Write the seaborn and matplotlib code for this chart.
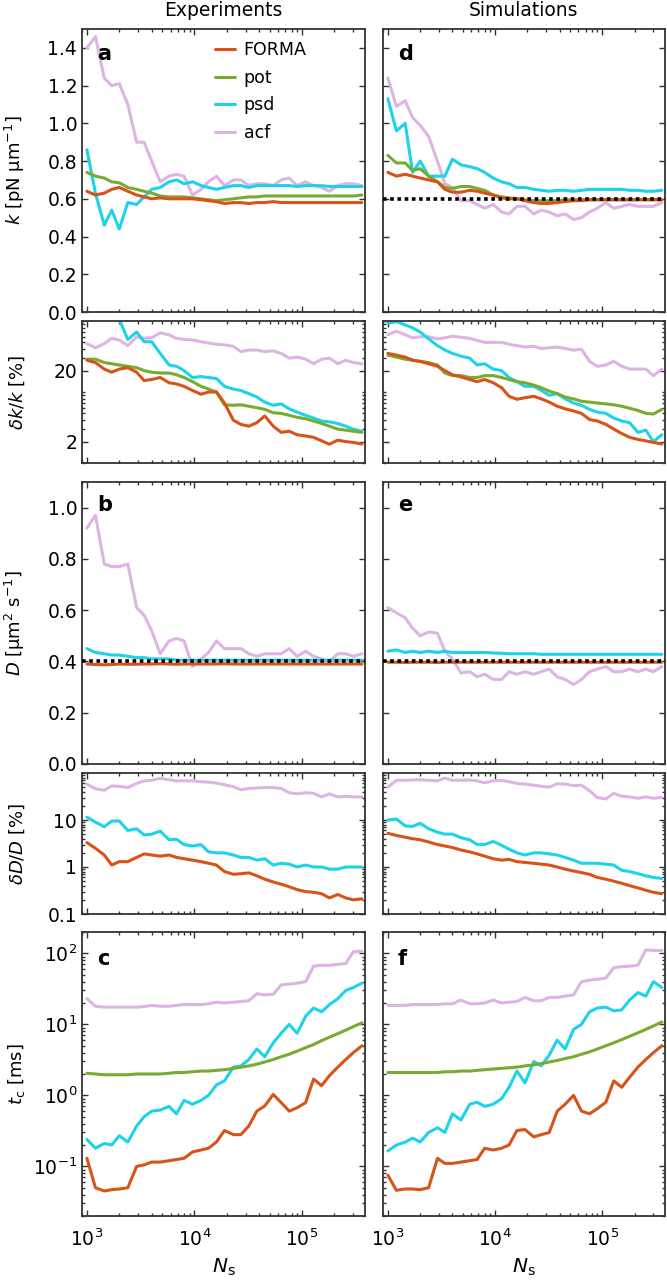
import matplotlib
matplotlib.use("Agg")
import matplotlib.pyplot as plt
import matplotlib.ticker as mticker
import seaborn as sns
import pandas as pd
import numpy as np

# number of samples N_s (shared x values of every curve)
ns = [1000, 1200, 1450, 1700, 2000, 2400, 2900, 3400, 4000, 4800, 5800, 6800,
      8000, 9600, 11500, 13500, 16000, 19000, 23000, 27000, 32000, 38000, 45000,
      54000, 64000, 76000, 90000, 108000, 128000, 152000, 180000, 215000, 255000,
      300000, 360000]

methods = ["FORMA", "pot", "psd", "acf"]
colors = {"FORMA": "#D95319", "pot": "#77AC30", "psd": "#1DD3EA", "acf": "#DDB4E4"}

# reference (true) values shown as dotted lines
k_true_sim = 0.6
D_true = 0.4

# ---- k [pN/um] ----
k_exp_forma = [0.64, 0.62, 0.63, 0.65, 0.66, 0.64, 0.62, 0.61, 0.60, 0.605, 0.60, 0.60, 0.60, 0.60, 0.595, 0.59,
               0.585, 0.575, 0.58, 0.58, 0.575, 0.58, 0.58, 0.585, 0.58, 0.58, 0.58, 0.58, 0.58, 0.58, 0.58,
               0.58, 0.58, 0.58, 0.58]
k_exp_pot = [0.74, 0.72, 0.71, 0.69, 0.685, 0.66, 0.65, 0.64, 0.63, 0.615, 0.61, 0.61, 0.61, 0.605, 0.60, 0.595,
             0.59, 0.595, 0.60, 0.605, 0.61, 0.61, 0.615, 0.615, 0.615, 0.615, 0.615, 0.615, 0.615, 0.615, 0.615,
             0.615, 0.615, 0.615, 0.62]
k_exp_psd = [0.86, 0.63, 0.46, 0.54, 0.44, 0.58, 0.57, 0.61, 0.65, 0.66, 0.69, 0.70, 0.68, 0.69, 0.67, 0.66,
             0.65, 0.66, 0.67, 0.67, 0.66, 0.67, 0.67, 0.67, 0.67, 0.67, 0.665, 0.67, 0.67, 0.67, 0.665,
             0.665, 0.665, 0.665, 0.665]
k_exp_acf = [1.40, 1.46, 1.24, 1.20, 1.21, 1.10, 0.90, 0.90, 0.80, 0.69, 0.72, 0.73, 0.72, 0.62, 0.65, 0.69,
             0.72, 0.67, 0.70, 0.70, 0.67, 0.68, 0.68, 0.67, 0.70, 0.71, 0.67, 0.69, 0.67, 0.66, 0.64,
             0.67, 0.68, 0.68, 0.67]

k_sim_forma = [0.74, 0.72, 0.73, 0.72, 0.71, 0.70, 0.69, 0.65, 0.635, 0.635, 0.645, 0.64, 0.63, 0.62, 0.605, 0.60,
               0.60, 0.59, 0.58, 0.575, 0.575, 0.58, 0.585, 0.59, 0.59, 0.595, 0.595, 0.595, 0.595, 0.595,
               0.595, 0.595, 0.595, 0.595, 0.595]
k_sim_pot = [0.83, 0.79, 0.79, 0.75, 0.76, 0.72, 0.69, 0.66, 0.655, 0.665, 0.665, 0.655, 0.645, 0.62, 0.61, 0.605,
             0.60, 0.595, 0.59, 0.59, 0.59, 0.59, 0.595, 0.595, 0.595, 0.595, 0.595, 0.595, 0.595, 0.595,
             0.595, 0.595, 0.595, 0.595, 0.595]
k_sim_psd = [1.13, 0.96, 1.00, 0.74, 0.80, 0.72, 0.72, 0.72, 0.81, 0.78, 0.77, 0.76, 0.74, 0.71, 0.69, 0.68,
             0.66, 0.66, 0.65, 0.645, 0.64, 0.645, 0.645, 0.64, 0.645, 0.65, 0.65, 0.65, 0.65, 0.65, 0.645,
             0.645, 0.64, 0.64, 0.645]
k_sim_acf = [1.24, 1.09, 1.12, 1.03, 0.99, 0.93, 0.80, 0.68, 0.66, 0.59, 0.59, 0.57, 0.55, 0.57, 0.53, 0.52,
             0.56, 0.56, 0.52, 0.54, 0.53, 0.51, 0.52, 0.49, 0.50, 0.53, 0.55, 0.58, 0.55, 0.56, 0.57,
             0.56, 0.56, 0.56, 0.58]

# ---- dk/k [%] ----
dk_exp_forma = [28, 26, 21, 19, 21, 22, 19, 14.5, 15, 16, 13.5, 13, 12, 10.5, 9.3, 10, 10, 7, 4.0, 3.5, 3.3,
                3.7, 4.6, 3.3, 2.7, 2.8, 2.5, 2.4, 2.3, 2.05, 1.84, 2.1, 2.0, 1.95, 1.85]
dk_exp_pot = [29, 29, 26, 25, 24, 23, 22, 20, 19, 18.5, 18.5, 17.5, 16, 14, 12, 11, 10, 6.6, 6.5, 6.6, 6.3,
              6.0, 5.7, 5.1, 5.0, 4.7, 4.4, 4.2, 3.9, 3.6, 3.3, 3.0, 2.9, 2.8, 2.7]
dk_exp_psd = [110, 110, 110, 110, 105, 55, 70, 51, 51, 35, 24, 23, 20, 16, 16.5, 16, 15.5, 12, 11, 10.5, 9.5,
              8.5, 7.2, 6.5, 6.8, 5.8, 5.2, 4.7, 4.3, 3.9, 3.8, 3.6, 3.3, 3.0, 2.8]
dk_exp_acf = [48, 42, 48, 57, 54, 45, 60, 57, 58, 68, 64, 57, 55, 54, 51, 49, 47, 46, 44, 37, 39, 39, 37, 38,
              35, 30, 31, 29, 25, 29, 30, 25, 28, 26, 25]

dk_sim_forma = [35, 33, 31, 28, 27, 25, 23, 20, 17.5, 16.3, 15, 14, 15, 13.5, 11.5, 8.7, 7.9, 8.3, 8.7, 8.0,
                7.2, 6.3, 5.8, 5.4, 5.0, 4.1, 3.9, 3.5, 3.0, 2.6, 2.3, 2.15, 2.05, 1.95, 1.85]
dk_sim_pot = [33, 31, 29, 28, 27, 26, 24, 18.5, 17, 17, 16, 16, 17, 17, 16, 15, 14, 13.5, 12.5, 11.5, 10.3,
              9.5, 8.5, 8.0, 7.4, 7.2, 7.0, 6.8, 6.6, 6.3, 5.9, 5.5, 5.0, 4.9, 5.7]
dk_sim_psd = [93, 98, 88, 80, 70, 56, 45, 39, 35, 32, 30, 24, 25, 21, 20, 16, 14, 12, 12, 10.5, 9, 9.5, 8, 7,
              6.5, 5.7, 5.2, 5.0, 4.3, 3.9, 3.7, 2.7, 2.9, 2.0, 2.5]
dk_sim_acf = [64, 72, 64, 58, 60, 60, 56, 58, 61, 59, 57, 53, 50, 50, 50, 47, 45, 43, 44, 41, 42, 43, 41, 39,
              40, 27, 23, 24, 27, 23, 21, 21, 21, 17, 21]

# ---- D [um^2/s] ----
D_exp_forma = [0.39, 0.388, 0.387, 0.388, 0.39, 0.389, 0.389, 0.39, 0.39, 0.391, 0.39, 0.389, 0.39, 0.39,
               0.39, 0.39, 0.39, 0.391, 0.39, 0.39, 0.39, 0.39, 0.39, 0.39, 0.39, 0.39, 0.39, 0.39, 0.39,
               0.39, 0.39, 0.39, 0.39, 0.39, 0.39]
D_exp_psd = [0.45, 0.435, 0.43, 0.425, 0.425, 0.42, 0.415, 0.415, 0.41, 0.41, 0.41, 0.405, 0.405, 0.405,
             0.405, 0.405, 0.405, 0.405, 0.405, 0.405, 0.405, 0.405, 0.405, 0.405, 0.405, 0.405, 0.405,
             0.405, 0.405, 0.405, 0.405, 0.405, 0.405, 0.405, 0.405]
D_exp_acf = [0.92, 0.97, 0.78, 0.77, 0.77, 0.78, 0.61, 0.58, 0.52, 0.43, 0.48, 0.49, 0.48, 0.38, 0.41, 0.435,
             0.48, 0.45, 0.45, 0.45, 0.43, 0.42, 0.43, 0.43, 0.43, 0.45, 0.42, 0.44, 0.42, 0.41, 0.40,
             0.43, 0.43, 0.42, 0.43]

D_sim_forma = [0.397, 0.397, 0.396, 0.397, 0.397, 0.397, 0.396, 0.397, 0.397, 0.397, 0.397, 0.397, 0.397,
               0.397, 0.397, 0.397, 0.397, 0.397, 0.397, 0.397, 0.397, 0.397, 0.397, 0.397, 0.397, 0.397,
               0.397, 0.397, 0.397, 0.397, 0.397, 0.397, 0.397, 0.397, 0.397]
D_sim_psd = [0.44, 0.445, 0.435, 0.44, 0.435, 0.44, 0.435, 0.44, 0.435, 0.435, 0.435, 0.435, 0.435, 0.433,
             0.432, 0.43, 0.43, 0.43, 0.43, 0.428, 0.428, 0.428, 0.428, 0.428, 0.428, 0.428, 0.428, 0.428,
             0.428, 0.428, 0.428, 0.428, 0.428, 0.428, 0.428]
D_sim_acf = [0.61, 0.59, 0.57, 0.53, 0.50, 0.515, 0.51, 0.44, 0.41, 0.355, 0.36, 0.34, 0.35, 0.33, 0.33,
             0.36, 0.35, 0.36, 0.35, 0.36, 0.37, 0.34, 0.33, 0.31, 0.33, 0.36, 0.37, 0.38, 0.36, 0.36, 0.37,
             0.36, 0.37, 0.36, 0.38]

# ---- dD/D [%] ----
dD_exp_forma = [3.3, 2.5, 1.8, 1.1, 1.3, 1.3, 1.6, 1.9, 1.8, 1.7, 1.8, 1.6, 1.5, 1.4, 1.3, 1.2, 1.1, 0.8, 0.7,
                0.72, 0.75, 0.65, 0.55, 0.48, 0.43, 0.38, 0.33, 0.30, 0.29, 0.27, 0.22, 0.26, 0.22, 0.20, 0.21]
dD_exp_psd = [11.5, 9, 7.2, 9.5, 9.5, 6.0, 6.5, 4.8, 5.0, 5.8, 3.8, 3.9, 3.0, 2.8, 3.0, 2.1, 2.0, 2.0, 1.8,
              1.6, 1.6, 1.4, 1.5, 1.1, 1.2, 1.15, 1.0, 1.1, 1.0, 1.0, 0.9, 0.9, 1.0, 1.0, 1.0]
dD_exp_acf = [58, 46, 43, 53, 52, 49, 60, 68, 70, 77, 72, 68, 68, 68, 65, 64, 61, 56, 51, 44, 47, 48, 49, 49,
              47, 38, 36, 38, 37, 31, 36, 31, 32, 31, 31]

dD_sim_forma = [5.2, 4.7, 4.3, 4.0, 3.8, 3.4, 3.0, 2.8, 2.6, 2.3, 2.1, 1.9, 1.7, 1.5, 1.4, 1.45, 1.3, 1.25,
                1.2, 1.15, 1.1, 1.0, 0.9, 0.82, 0.76, 0.7, 0.6, 0.55, 0.5, 0.45, 0.4, 0.36, 0.32, 0.29, 0.27]
dD_sim_psd = [10, 10.5, 7.5, 7.3, 8.5, 6.5, 5.5, 5.0, 5.0, 4.2, 3.8, 3.0, 3.0, 3.5, 2.9, 2.4, 2.0, 1.8, 2.0,
              2.0, 1.9, 1.8, 1.6, 1.4, 1.2, 1.2, 1.2, 1.15, 1.1, 0.85, 0.8, 0.72, 0.65, 0.6, 0.57]
dD_sim_acf = [50, 70, 70, 71, 72, 70, 68, 78, 70, 70, 71, 68, 62, 68, 70, 65, 60, 58, 55, 52, 50, 59, 58, 54,
              55, 42, 30, 28, 37, 32, 31, 29, 31, 29, 30]

# ---- t_c [ms] ----
tc_exp_forma = [0.13, 0.05, 0.045, 0.047, 0.048, 0.05, 0.1, 0.105, 0.115, 0.115, 0.12, 0.125, 0.13, 0.16,
                0.17, 0.18, 0.22, 0.32, 0.28, 0.28, 0.37, 0.6, 0.71, 1.03, 0.79, 0.6, 0.67, 0.79, 1.7, 1.37,
                1.9, 2.5, 3.2, 4.0, 5.0]
tc_exp_pot = [2.05, 2.0, 1.95, 1.95, 1.95, 1.95, 2.0, 2.0, 2.0, 2.0, 2.05, 2.1, 2.1, 2.15, 2.2, 2.2, 2.25,
              2.3, 2.4, 2.5, 2.6, 2.75, 2.95, 3.2, 3.5, 3.8, 4.2, 4.7, 5.2, 5.9, 6.6, 7.4, 8.3, 9.3, 10.5]
tc_exp_psd = [0.24, 0.18, 0.21, 0.20, 0.27, 0.22, 0.37, 0.5, 0.6, 0.62, 0.7, 0.55, 0.85, 0.75, 0.85, 1.0,
              1.4, 1.6, 2.5, 2.6, 3.2, 4.5, 3.5, 5.5, 7.5, 10, 7.5, 13, 17, 15, 19, 23, 30, 33, 38]
tc_exp_acf = [23, 18, 17.5, 17.5, 17.5, 17.5, 17.5, 17.8, 18.5, 18, 18, 18.5, 19, 19, 19, 19.5, 20.5, 20,
              20.5, 21, 21.5, 27, 26, 26.5, 36, 37, 38, 40, 66, 68, 68, 70, 72, 105, 108]

tc_sim_forma = [0.075, 0.046, 0.048, 0.048, 0.047, 0.05, 0.13, 0.11, 0.11, 0.115, 0.12, 0.125, 0.18, 0.17,
                0.18, 0.2, 0.32, 0.33, 0.26, 0.28, 0.3, 0.6, 0.75, 1.0, 0.6, 0.55, 0.65, 0.8, 1.6, 1.3, 1.8,
                2.5, 3.2, 4.0, 5.0]
tc_sim_pot = [2.1, 2.1, 2.1, 2.1, 2.1, 2.1, 2.1, 2.15, 2.15, 2.2, 2.2, 2.25, 2.3, 2.35, 2.4, 2.45, 2.5, 2.6,
              2.7, 2.8, 2.95, 3.1, 3.3, 3.5, 3.8, 4.1, 4.5, 5.0, 5.5, 6.1, 6.8, 7.6, 8.5, 9.5, 10.8]
tc_sim_psd = [0.165, 0.2, 0.22, 0.25, 0.22, 0.3, 0.35, 0.3, 0.55, 0.45, 0.75, 0.8, 0.7, 0.75, 0.9, 1.3, 2.2,
              1.5, 3.0, 2.6, 3.7, 6.0, 4.5, 8.5, 10, 15, 17, 17.5, 15.5, 16, 22, 28, 25, 40, 33]
tc_sim_acf = [18.5, 18.5, 18.5, 19, 19, 19, 19, 19.5, 19.5, 22, 19.5, 19.5, 20, 22, 20, 20.5, 21, 24, 21.5,
              21.5, 24, 24, 25, 26, 40, 42, 43, 45, 63, 65, 66, 68, 112, 110, 110]

# panels: (row, col) -> series
panels = {
    (0, 0): {"FORMA": k_exp_forma, "pot": k_exp_pot, "psd": k_exp_psd, "acf": k_exp_acf},
    (0, 1): {"FORMA": k_sim_forma, "pot": k_sim_pot, "psd": k_sim_psd, "acf": k_sim_acf},
    (1, 0): {"FORMA": dk_exp_forma, "pot": dk_exp_pot, "psd": dk_exp_psd, "acf": dk_exp_acf},
    (1, 1): {"FORMA": dk_sim_forma, "pot": dk_sim_pot, "psd": dk_sim_psd, "acf": dk_sim_acf},
    (2, 0): {"FORMA": D_exp_forma, "psd": D_exp_psd, "acf": D_exp_acf},
    (2, 1): {"FORMA": D_sim_forma, "psd": D_sim_psd, "acf": D_sim_acf},
    (3, 0): {"FORMA": dD_exp_forma, "psd": dD_exp_psd, "acf": dD_exp_acf},
    (3, 1): {"FORMA": dD_sim_forma, "psd": dD_sim_psd, "acf": dD_sim_acf},
    (4, 0): {"FORMA": tc_exp_forma, "pot": tc_exp_pot, "psd": tc_exp_psd, "acf": tc_exp_acf},
    (4, 1): {"FORMA": tc_sim_forma, "pot": tc_sim_pot, "psd": tc_sim_psd, "acf": tc_sim_acf},
}
ref_lines = {(0, 1): k_true_sim, (2, 0): D_true, (2, 1): D_true}
letters = {(0, 0): "a", (0, 1): "d", (2, 0): "b", (2, 1): "e", (4, 0): "c", (4, 1): "f"}
ylabels = ["$k$ [pN µm$^{-1}$]", r"$\delta k/k$ [%]", "$D$ [µm$^{2}$ s$^{-1}$]",
           r"$\delta D/D$ [%]", r"$t_{\mathrm{c}}$ [ms]"]

sns.set_style("ticks")
plt.rcParams["font.family"] = ["DejaVu Sans"]
plt.rcParams["mathtext.fontset"] = "dejavusans"
plt.rcParams["text.color"] = "black"
plt.rcParams["axes.labelcolor"] = "black"
plt.rcParams["xtick.labelcolor"] = "black"
plt.rcParams["ytick.labelcolor"] = "black"

W, H = 667, 1283
fig = plt.figure(figsize=(W / 100, H / 100), dpi=100)

# layout in pixels
col_x = [(82, 365), (383, 665)]
row_y = [(29, 312), (321, 463), (482, 764), (773, 914), (932, 1216)]
letter_y = {0: 0.912, 2: 0.918, 4: 0.905}

draw_order = ["acf", "psd", "pot", "FORMA"]
FS = 13.5

for (r, c), series in panels.items():
    x0, x1 = col_x[c]
    y0, y1 = row_y[r]
    ax = fig.add_axes([x0 / W, 1 - y1 / H, (x1 - x0) / W, (y1 - y0) / H])

    rows = []
    order = [m for m in draw_order if m in series]
    for m in order:
        for x, y in zip(ns, series[m]):
            rows.append((x, y, m))
    df = pd.DataFrame(rows, columns=["Ns", "value", "method"])
    sns.lineplot(data=df, x="Ns", y="value", hue="method", hue_order=order, palette=colors,
                 estimator=None, sort=False, lw=2.2, legend=False, ax=ax)
    if (r, c) in ref_lines:
        ax.axhline(ref_lines[(r, c)], color="black", ls=(0, (1, 1)), lw=2.6, zorder=5)

    ax.set_xscale("log")
    ax.set_xlim(900, 3.85e5)
    ax.xaxis.set_major_locator(mticker.LogLocator(base=10))
    ax.xaxis.set_minor_locator(mticker.LogLocator(base=10, subs=np.arange(2, 10)))
    ax.xaxis.set_minor_formatter(mticker.NullFormatter())

    if r == 0:
        ax.set_ylim(0, 1.5)
        ax.set_yticks(np.arange(0, 1.41, 0.2))
        ax.yaxis.set_major_formatter(mticker.FormatStrFormatter("%.1f"))
    elif r == 2:
        ax.set_ylim(0, 1.1)
        ax.set_yticks(np.arange(0, 1.01, 0.2))
        ax.yaxis.set_major_formatter(mticker.FormatStrFormatter("%.1f"))
    elif r == 1:
        ax.set_yscale("log")
        ax.set_ylim(1, 100)
        ax.set_yticks([2, 20])
        ax.set_yticklabels(["2", "20"])
        ax.yaxis.set_minor_locator(mticker.LogLocator(base=10, subs=np.arange(1, 10)))
        ax.yaxis.set_minor_formatter(mticker.NullFormatter())
    elif r == 3:
        ax.set_yscale("log")
        ax.set_ylim(0.1, 100)
        ax.set_yticks([0.1, 1, 10])
        ax.set_yticklabels(["0.1", "1", "10"])
        ax.yaxis.set_minor_locator(mticker.LogLocator(base=10, subs=np.arange(2, 10)))
        ax.yaxis.set_minor_formatter(mticker.NullFormatter())
    else:
        ax.set_yscale("log")
        ax.set_ylim(0.02, 200)
        ax.yaxis.set_major_locator(mticker.LogLocator(base=10))
        ax.yaxis.set_major_formatter(mticker.LogFormatterMathtext())
        ax.yaxis.set_minor_locator(mticker.LogLocator(base=10, subs=np.arange(2, 10)))
        ax.yaxis.set_minor_formatter(mticker.NullFormatter())

    ax.tick_params(which="both", direction="in", top=True, right=True, width=1.0,
                   color="#333333", labelsize=FS, labelcolor="black")
    ax.tick_params(which="major", length=4.5)
    ax.tick_params(which="minor", length=2.5)
    ax.tick_params(axis="y", pad=3.5)
    ax.tick_params(axis="x", pad=9)
    ax.tick_params(labelbottom=(r == 4), labelleft=(c == 0))
    for s in ax.spines.values():
        s.set_linewidth(1.3)
        s.set_color("#333333")

    ax.set_xlabel("")
    if c == 0:
        ax.set_ylabel(ylabels[r], fontsize=13, color="black")
        ax.yaxis.set_label_coords(-0.195, 0.5)
    else:
        ax.set_ylabel("")

    if (r, c) in letters:
        ax.text(0.053, letter_y[r], letters[(r, c)], transform=ax.transAxes, color="black",
                fontsize=15, fontweight="bold", ha="left", va="center")

    if (r, c) == (0, 0):
        handles = ax.lines[:4][::-1]
        ax.legend(handles, methods, loc="upper left", bbox_to_anchor=(0.47, 0.958),
                  frameon=False, fontsize=12.5, handlelength=1.15, handletextpad=0.5,
                  labelspacing=0.56, borderpad=0, borderaxespad=0)

# column titles and x labels
for c, title in enumerate(["Experiments", "Simulations"]):
    xc = (col_x[c][0] + col_x[c][1]) / 2 / W
    fig.text(xc, 1 - 11 / H, title, ha="center", va="center", fontsize=FS, color="black")
    fig.text(xc, 1 - 1267 / H, r"$N_{\mathrm{s}}$", ha="center", va="center",
             fontsize=FS + 1, color="black")

fig.savefig("out.png", dpi=100)
